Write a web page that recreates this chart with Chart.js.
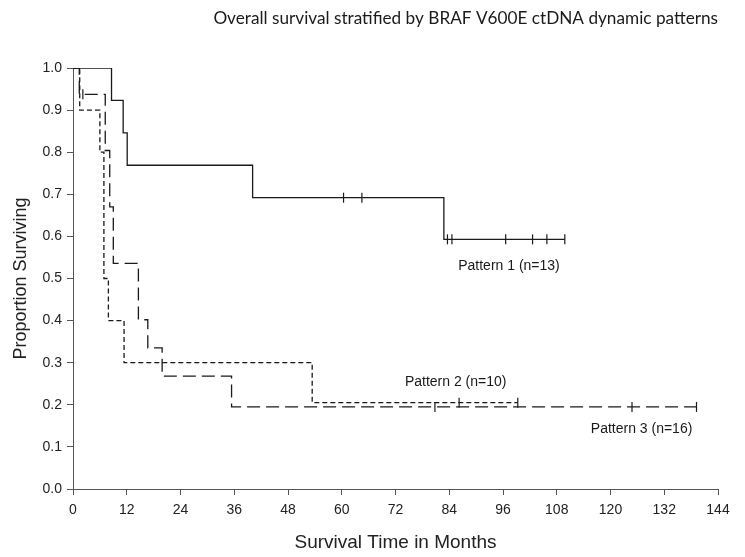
<!DOCTYPE html>
<html>
<head>
<meta charset="utf-8">
<script src="https://cdn.jsdelivr.net/npm/chart.js@4"></script>
<style>
  html, body { margin: 0; padding: 0; background: #fff; }
</style>
</head>
<body>
<canvas id="km" width="745" height="557"></canvas>
<script>
// Kaplan-Meier data (months, survival proportion, censored flag)
const p1Times = [0, 8.6, 11.2, 12.1, 40.1, 60.4, 64.5, 82.8, 83.6, 84.6, 96.6, 102.6, 105.8, 109.8];
const p1Surv  = [1, 0.923, 0.846, 0.769, 0.692, 0.692, 0.692, 0.593, 0.593, 0.593, 0.593, 0.593, 0.593, 0.593];
const p1Cens  = [0, 0, 0, 0, 0, 1, 1, 0, 1, 1, 1, 1, 1, 1];

const p2Times = [0, 1.5, 6.0, 6.9, 7.9, 11.4, 53.4, 86.2, 99.3];
const p2Surv  = [1, 0.9, 0.8, 0.5, 0.4, 0.3, 0.205, 0.205, 0.205];
const p2Cens  = [0, 0, 0, 0, 0, 0, 0, 1, 1];

const p3Times = [0, 1.4, 2.2, 7.2, 8.2, 9.0, 14.6, 16.7, 19.9, 35.4, 80.8, 124.8, 139.2];
const p3Surv  = [1, 0.9375, 0.9375, 0.804, 0.670, 0.536, 0.402, 0.335, 0.268, 0.195, 0.195, 0.195, 0.195];
const p3Cens  = [0, 0, 1, 0, 0, 0, 0, 0, 0, 0, 1, 1, 1];

const groupLabels = ['Pattern 1 (n=13)', 'Pattern 2 (n=10)', 'Pattern 3 (n=16)'];
const xTickValues = [0, 12, 24, 36, 48, 60, 72, 84, 96, 108, 120, 132, 144];
const yTickValues = [0, 0.1, 0.2, 0.3, 0.4, 0.5, 0.6, 0.7, 0.8, 0.9, 1.0];

const toPoints = (t, s) => t.map((v, i) => ({ x: v, y: s[i] }));

function kmDataset(label, times, surv, cens, dash) {
    return {
        label: label,
        data: toPoints(times, surv),
        showLine: true,
        stepped: 'before',
        borderColor: '#1a1a1a',
        borderWidth: 1.3,
        borderDash: dash,
        pointStyle: 'line',
        rotation: 90,
        pointRadius: ctx => cens[ctx.dataIndex] ? 5 : 0,
        pointBorderColor: '#1a1a1a',
        pointBorderWidth: 1.2,
        fill: false
    };
}

// curve labels placed in data units
const labelPos = [
    { x: 86.0, y: 0.530 },
    { x: 74.1, y: 0.255 },
    { x: 115.6, y: 0.142 }
];

const annotate = {
    id: 'annotate',
    afterDraw(chart) {
        const ctx = chart.ctx;
        const xs = chart.scales.x, ys = chart.scales.y;
        ctx.save();
        ctx.fillStyle = '#1a1a1a';
        ctx.font = '14px "Liberation Sans", Arial, sans-serif';
        ctx.textBaseline = 'middle';
        ctx.textAlign = 'left';
        groupLabels.forEach((txt, i) => {
            ctx.fillText(txt, xs.getPixelForValue(labelPos[i].x), ys.getPixelForValue(labelPos[i].y));
        });
        // figure title
        ctx.font = '17.2px Lato, "Open Sans", sans-serif';
        ctx.textAlign = 'right';
        ctx.fillText('Overall survival stratified by BRAF V600E ctDNA dynamic patterns', 718, 18);
        ctx.restore();
    }
};

new Chart(document.getElementById('km').getContext('2d'), {
    type: 'scatter',
    data: {
        datasets: [
            kmDataset(groupLabels[0], p1Times, p1Surv, p1Cens, []),
            kmDataset(groupLabels[1], p2Times, p2Surv, p2Cens, [5, 3]),
            kmDataset(groupLabels[2], p3Times, p3Surv, p3Cens, [13, 6])
        ]
    },
    options: {
        responsive: false,
        animation: false,
        events: [],
        layout: { padding: { top: 68, right: 27, bottom: 0, left: 0 } },
        scales: {
            x: {
                type: 'linear',
                min: 0,
                max: 144,
                afterFit: s => { s.height = 68; },
                afterBuildTicks: s => { s.ticks = xTickValues.map(v => ({ value: v })); },
                grid: { drawOnChartArea: false, tickLength: 6, color: '#555' },
                border: { color: '#555', width: 1 },
                ticks: { color: '#222', padding: 7, font: { family: '"Liberation Sans", Arial', size: 14 } },
                title: {
                    display: true,
                    text: 'Survival Time in Months',
                    color: '#222',
                    font: { family: '"Liberation Sans", Arial', size: 19 },
                    padding: { top: 4, bottom: 3 }
                }
            },
            y: {
                min: 0,
                max: 1,
                afterFit: s => { s.width = 73; },
                afterBuildTicks: s => { s.ticks = yTickValues.map(v => ({ value: v })); },
                grid: { drawOnChartArea: false, tickLength: 6, color: '#555' },
                border: { color: '#555', width: 1 },
                ticks: {
                    color: '#222',
                    padding: 5,
                    font: { family: '"Liberation Sans", Arial', size: 14 },
                    callback: v => v.toFixed(1)
                },
                title: {
                    display: true,
                    text: 'Proportion Surviving',
                    color: '#222',
                    font: { family: '"Liberation Sans", Arial', size: 18 },
                    padding: { top: 10, bottom: 0 }
                }
            }
        },
        plugins: {
            legend: { display: false },
            tooltip: { enabled: false }
        }
    },
    plugins: [annotate]
});
</script>
</body>
</html>
